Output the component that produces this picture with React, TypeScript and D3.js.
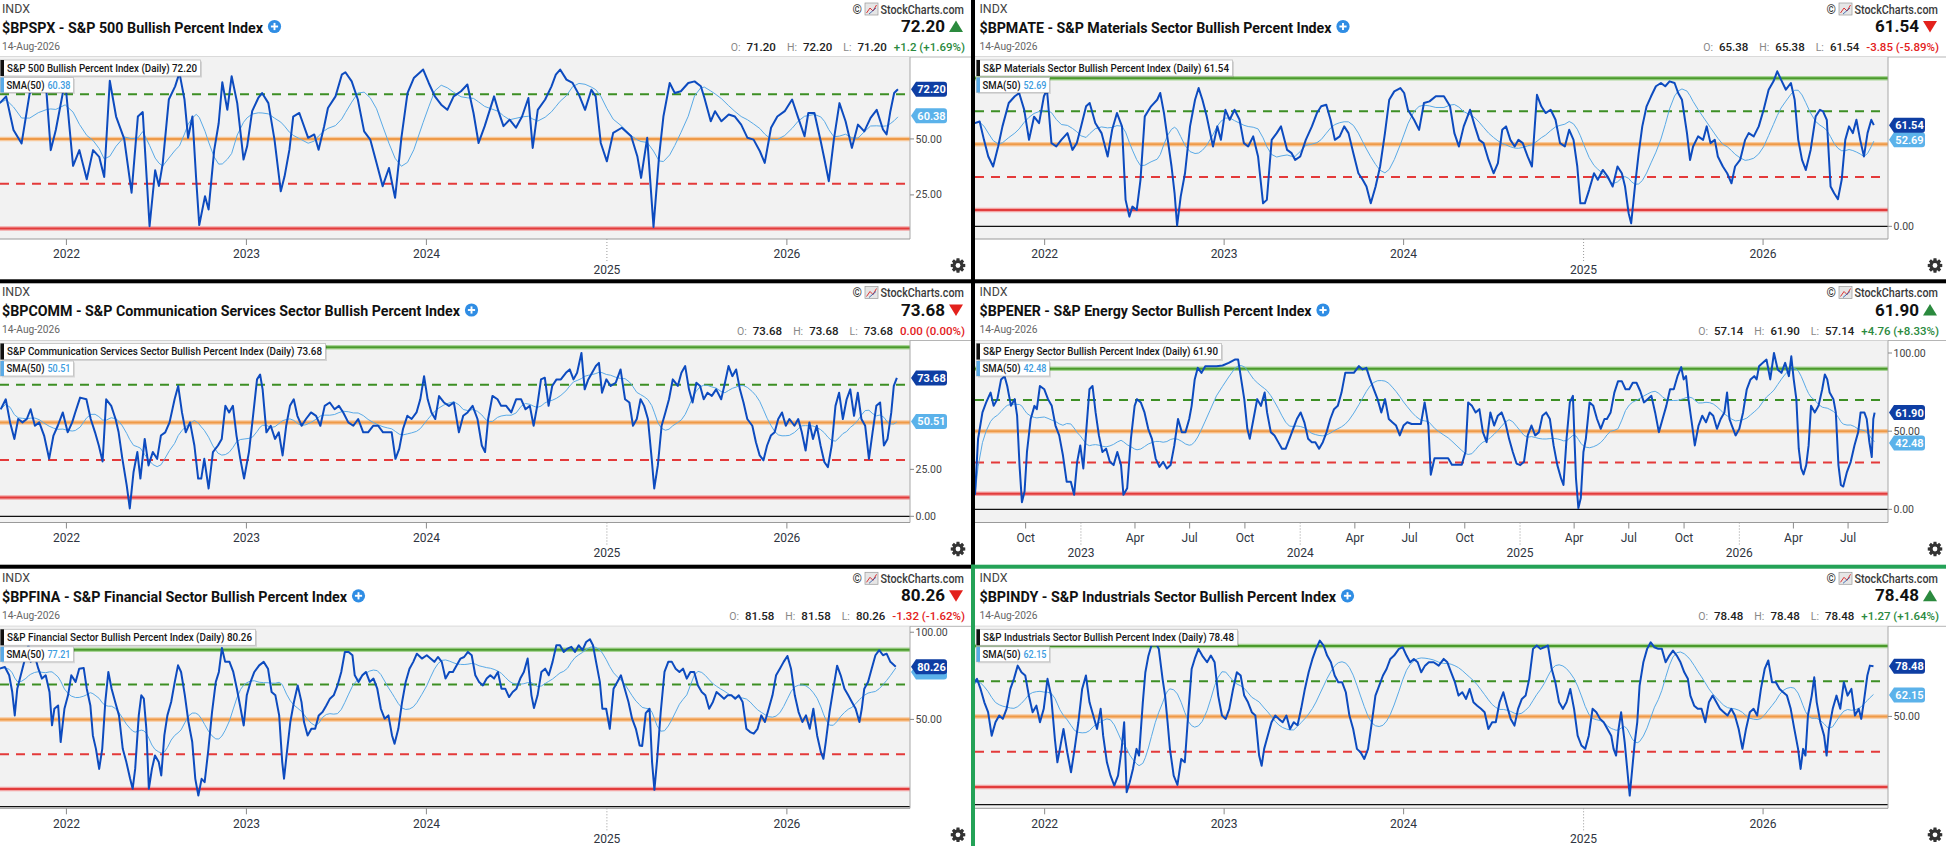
import React from "react";
import * as d3 from "d3";

// ---------------- DATA (dates as decimal years, values in %) ----------------
const p1Dates = [2021.63,2021.665,2021.706,2021.751,2021.796,2021.844,2021.889,2021.913,2021.941,2021.993,
2022.037,2022.072,2022.113,2022.148,2022.182,2022.21,2022.241,2022.276,2022.321,2022.362,
2022.397,2022.424,2022.462,2022.493,2022.514,2022.535,2022.569,2022.604,2022.628,2022.656,
2022.676,2022.7,2022.721,2022.738,2022.77,2022.79,2022.821,2022.846,2022.866,2022.894,
2022.918,2022.949,2022.984,2023.004,2023.032,2023.066,2023.087,2023.122,2023.156,2023.191,
2023.212,2023.239,2023.26,2023.294,2023.343,2023.377,2023.401,2023.432,2023.453,2023.495,
2023.53,2023.55,2023.585,2023.619,2023.654,2023.688,2023.723,2023.757,2023.792,2023.826,
2023.861,2023.895,2023.93,2023.982,2024.013,2024.047,2024.082,2024.116,2024.151,2024.192,
2024.227,2024.261,2024.289,2024.323,2024.375,2024.399,2024.427,2024.461,2024.496,2024.53,
2024.565,2024.589,2024.617,2024.658,2024.693,2024.717,2024.741,2024.776,2024.81,2024.845,
2024.879,2024.914,2024.938,2024.966,2025.0,2025.035,2025.083,2025.135,2025.169,2025.19,
2025.224,2025.259,2025.29,2025.314,2025.349,2025.377,2025.411,2025.452,2025.487,2025.522,
2025.542,2025.577,2025.601,2025.636,2025.677,2025.711,2025.746,2025.781,2025.815,2025.85,
2025.877,2025.912,2025.947,2025.988,2026.029,2026.063,2026.098,2026.119,2026.153,2026.188,
2026.209,2026.233,2026.261,2026.292,2026.326,2026.361,2026.395,2026.43,2026.465,2026.499,
2026.534,2026.554,2026.575,2026.596,2026.617];
const p1Values = [66,69,54,48,70.5,73,71,45,54,76,
38,45,32,45,42,33,76,60,50,26,
60,62,11,36,29,39,67.6,73.5,79.5,67.6,
50.5,60,32,11.5,24.4,18.5,45,57,75.3,63,
78,66,40.8,46.7,62.4,68.3,70.5,66,49.7,26.6,
33.3,45.2,60,61.6,50.5,52,45.2,55.7,63.8,69,
78.7,79.8,75.7,67.6,53.4,49.7,39.3,28.9,37,23.7,
50.5,70.5,77.2,81,75,69,65.3,63,69,71.3,
74.3,61.6,48.2,55.7,69,62.4,55.7,58.6,55,60,
68.3,46,63,67.6,73.5,78.7,81,76.5,75,69.8,
63,72,69,48.2,40,52.7,55,51.2,42.3,32.6,
50.5,10.7,42.3,60,75,70.5,71.3,75,75.7,73.5,
68.3,57.9,62.4,57.9,60.9,60,56.4,50.5,49.7,44.5,
39.3,55,60,62.4,67.6,59.4,51.2,61.6,61.6,49,
40.8,31.1,49.7,66,57.9,46,56.4,53.4,59.4,63,
54.2,52,62.4,70.5,72.2];

const p2Dates = [2021.61,2021.638,2021.662,2021.686,2021.713,2021.741,2021.765,2021.8,2021.834,2021.858,
2021.886,2021.913,2021.941,2021.969,2021.996,2022.013,2022.038,2022.065,2022.093,2022.127,
2022.155,2022.179,2022.203,2022.231,2022.251,2022.282,2022.317,2022.351,2022.376,2022.403,
2022.431,2022.451,2022.472,2022.489,2022.513,2022.534,2022.558,2022.593,2022.627,2022.644,
2022.665,2022.686,2022.707,2022.724,2022.738,2022.758,2022.782,2022.81,2022.838,2022.858,
2022.879,2022.903,2022.938,2022.962,2022.982,2023.007,2023.031,2023.058,2023.086,2023.11,
2023.134,2023.162,2023.189,2023.217,2023.238,2023.265,2023.293,2023.317,2023.351,2023.376,
2023.396,2023.424,2023.455,2023.489,2023.517,2023.541,2023.569,2023.593,2023.617,2023.644,
2023.669,2023.693,2023.72,2023.748,2023.772,2023.793,2023.817,2023.844,2023.869,2023.896,
2023.92,2023.948,2023.982,2024.003,2024.024,2024.058,2024.086,2024.113,2024.144,2024.179,
2024.224,2024.258,2024.282,2024.307,2024.334,2024.369,2024.396,2024.42,2024.444,2024.472,
2024.5,2024.524,2024.548,2024.569,2024.593,2024.617,2024.638,2024.662,2024.689,2024.713,
2024.741,2024.765,2024.789,2024.817,2024.844,2024.869,2024.896,2024.92,2024.944,2024.965,
2024.982,2025.007,2025.031,2025.058,2025.079,2025.107,2025.134,2025.162,2025.189,2025.213,
2025.231,2025.251,2025.265,2025.286,2025.307,2025.327,2025.351,2025.376,2025.403,2025.431,
2025.455,2025.479,2025.507,2025.527,2025.548,2025.576,2025.593,2025.61,2025.638,2025.666,
2025.686,2025.707,2025.731,2025.748,2025.776,2025.8,2025.824,2025.844,2025.872,2025.9,
2025.92,2025.948,2025.976,2026.003,2026.031,2026.058,2026.079,2026.1,2026.127,2026.155,
2026.176,2026.196,2026.217,2026.238,2026.265,2026.293,2026.317,2026.334,2026.355,2026.376,
2026.396,2026.417,2026.438,2026.458,2026.479,2026.5,2026.52,2026.541,2026.562,2026.582,
2026.603,2026.617];
const p2Values = [62.8,63.8,52.6,42.5,36.4,48.6,60.8,75,79.1,81.1,
71,52.6,66.7,62.8,79.1,83.1,50.6,48.6,52.6,56.7,
46.5,50.6,60.8,73,75,62.8,56.7,42.5,58.7,68.9,
60.8,16.1,5.9,12,9.9,28.3,66.9,73,77,81.1,
68.9,52.6,36.4,20.1,0.5,18.1,32.3,60.8,77,84.1,
77,66.9,48.6,60.8,52.6,70.9,64.8,70.9,64.8,50.6,
48.6,54.7,42.5,14,16.1,52.6,56.7,60.8,46.5,44.5,
40.4,42.5,52.6,60.8,68.9,73,74,64.8,52.6,54.7,
60.8,56.7,44.5,32.3,28.3,24.2,14,24.2,36.4,56.7,
77,82.1,84.1,81.1,70.9,64.8,58.7,75,76,79.1,
79.1,73,56.7,48.6,60.8,70.9,60.8,52.6,50.6,40.4,
32.3,38.4,58.7,60.8,52.6,48.6,52.6,50.6,42.5,36.4,
80,73,68.9,70.9,64.8,50.6,48.6,58.7,52.6,36.4,
14,14,22.2,32.3,28.3,34.3,30.3,24.2,36.4,32.3,
24.2,8,1.8,24.2,44.5,60.8,73,79.1,85.2,87.2,
85.2,88.2,87.2,81.1,77,56.7,40.4,48.6,54.7,52.6,
60.8,50.6,52.6,42.5,36.4,32.3,26.2,36.4,40.4,52.6,
56.7,54.7,60.8,70.9,83.1,88.2,94.3,89.2,83.1,87.2,
77,52.6,40.4,34.3,46.5,66.9,70.9,69.9,64.8,24.2,
20.1,16.5,28.3,52.6,60.8,56.7,64.8,52.6,42.5,56.7,
64.8,61.54];

const p3Dates = [2021.635,2021.663,2021.687,2021.711,2021.732,2021.756,2021.78,2021.801,2021.825,2021.849,
2021.876,2021.904,2021.928,2021.952,2021.98,2022.007,2022.032,2022.049,2022.076,2022.111,
2022.135,2022.159,2022.18,2022.201,2022.221,2022.249,2022.273,2022.29,2022.311,2022.335,
2022.352,2022.373,2022.394,2022.411,2022.435,2022.456,2022.48,2022.504,2022.525,2022.549,
2022.573,2022.601,2022.621,2022.642,2022.663,2022.687,2022.711,2022.732,2022.749,2022.766,
2022.79,2022.814,2022.842,2022.863,2022.883,2022.904,2022.925,2022.945,2022.966,2022.987,
2023.014,2023.035,2023.059,2023.076,2023.09,2023.111,2023.135,2023.159,2023.18,2023.201,
2023.221,2023.242,2023.263,2023.283,2023.307,2023.331,2023.359,2023.387,2023.411,2023.435,
2023.463,2023.49,2023.514,2023.538,2023.566,2023.594,2023.621,2023.649,2023.676,2023.704,
2023.732,2023.759,2023.783,2023.807,2023.828,2023.849,2023.87,2023.894,2023.918,2023.945,
2023.966,2023.987,2024.007,2024.028,2024.049,2024.07,2024.097,2024.125,2024.152,2024.18,
2024.204,2024.228,2024.256,2024.283,2024.307,2024.325,2024.342,2024.366,2024.394,2024.414,
2024.442,2024.47,2024.497,2024.525,2024.549,2024.573,2024.594,2024.614,2024.635,2024.656,
2024.677,2024.697,2024.721,2024.745,2024.773,2024.794,2024.815,2024.835,2024.859,2024.877,
2024.897,2024.918,2024.939,2024.956,2024.973,2024.997,2025.021,2025.049,2025.076,2025.101,
2025.125,2025.145,2025.166,2025.187,2025.207,2025.228,2025.249,2025.263,2025.283,2025.304,
2025.325,2025.345,2025.366,2025.394,2025.414,2025.435,2025.456,2025.476,2025.497,2025.518,
2025.538,2025.559,2025.583,2025.607,2025.635,2025.656,2025.676,2025.697,2025.718,2025.739,
2025.759,2025.78,2025.808,2025.828,2025.849,2025.87,2025.89,2025.911,2025.932,2025.952,
2025.973,2025.994,2026.014,2026.042,2026.063,2026.083,2026.104,2026.125,2026.145,2026.166,
2026.187,2026.208,2026.228,2026.249,2026.27,2026.29,2026.311,2026.332,2026.352,2026.373,
2026.394,2026.414,2026.435,2026.456,2026.476,2026.497,2026.518,2026.539,2026.559,2026.58,
2026.594,2026.611];
const p3Values = [57,62.3,50,41.2,51.8,50,51.8,57,48.2,50,
43,30.6,43,48.2,55.3,44.7,50,55.3,63.2,62.3,
51.8,44.7,37.7,29.2,62.3,58.8,51.8,44.7,30.6,16.5,
4.2,23.6,34.2,20.1,41.2,27.1,34.2,30.6,43,44.7,
50,62.3,69.4,55.3,44.7,50,37.7,20.1,20.1,30.6,
14.8,34.2,37.7,41.2,58.8,55.3,58.8,43,30.6,20.1,
34.2,51.8,72.9,75.5,67.6,44.7,48.2,41.2,44.7,32.4,
48.2,58.8,62.3,53.5,48.2,51.8,55.3,53.5,48.2,58.8,
60.6,57,58.8,55.3,50,48.2,51.8,44.7,44.7,48.2,
48.2,44.7,44.7,44.7,30.6,35.9,46.5,53.5,51.8,55.3,
62.3,74.6,62.3,55.3,51.8,64,60.6,58.8,60.6,44.7,
53.5,55.3,58.8,51.8,37.7,34.2,51.8,64.1,62.3,58.8,
58.8,55.3,62.3,62.3,57,58.8,48.2,58.8,72.9,73.8,
58.8,69.4,72.9,72.9,76.4,78.2,72.9,76.4,87,67.6,
72.9,76.4,80,81.7,65.8,72.9,69.4,71.1,78.2,62.3,
60.6,48.2,51.8,62.3,58.8,51.8,30.6,14.8,27.1,48.2,
55.3,62.3,72.9,69.4,76.4,80,67.6,60.6,71.1,69.4,
62.3,65.8,64.1,67.6,62.3,71.1,80,74.6,78.2,67.6,
60.6,51.8,48.2,39.4,32.4,29.8,37.7,43,44.7,51.8,
55.3,48.2,51.8,48.2,51.8,44.7,35,50,41.2,48.2,
37.7,28.9,26.2,37.7,58.8,65.8,51.8,62.3,67.6,53.5,
65.8,51.8,48.2,30.6,44.7,58.8,60.6,37.7,41.2,55.3,
69.4,73.68];

const p4Dates = [2022.517,2022.531,2022.551,2022.568,2022.588,2022.602,2022.619,2022.636,2022.652,2022.664,
2022.681,2022.698,2022.709,2022.72,2022.731,2022.743,2022.754,2022.771,2022.788,2022.799,
2022.813,2022.833,2022.85,2022.867,2022.884,2022.901,2022.918,2022.935,2022.954,2022.969,
2022.983,2022.997,2023.011,2023.025,2023.039,2023.053,2023.067,2023.082,2023.098,2023.115,
2023.132,2023.149,2023.166,2023.183,2023.194,2023.211,2023.228,2023.245,2023.256,2023.273,
2023.29,2023.307,2023.324,2023.341,2023.358,2023.375,2023.392,2023.409,2023.426,2023.443,
2023.46,2023.477,2023.494,2023.505,2023.519,2023.533,2023.55,2023.567,2023.589,2023.618,
2023.646,2023.674,2023.702,2023.717,2023.731,2023.745,2023.759,2023.77,2023.787,2023.804,
2023.821,2023.838,2023.849,2023.866,2023.883,2023.9,2023.917,2023.934,2023.951,2023.968,
2023.985,2024.002,2024.019,2024.036,2024.053,2024.069,2024.086,2024.103,2024.12,2024.137,
2024.154,2024.171,2024.188,2024.205,2024.222,2024.244,2024.267,2024.284,2024.301,2024.318,
2024.335,2024.352,2024.369,2024.386,2024.403,2024.419,2024.436,2024.453,2024.47,2024.487,
2024.507,2024.527,2024.549,2024.566,2024.583,2024.594,2024.611,2024.628,2024.651,2024.673,
2024.69,2024.713,2024.735,2024.752,2024.764,2024.781,2024.798,2024.815,2024.831,2024.848,
2024.865,2024.882,2024.899,2024.916,2024.933,2024.95,2024.967,2024.984,2025.001,2025.018,
2025.035,2025.052,2025.069,2025.086,2025.102,2025.119,2025.136,2025.153,2025.17,2025.187,
2025.198,2025.212,2025.227,2025.241,2025.255,2025.266,2025.277,2025.289,2025.3,2025.317,
2025.334,2025.351,2025.368,2025.385,2025.396,2025.413,2025.43,2025.447,2025.464,2025.481,
2025.498,2025.514,2025.531,2025.548,2025.565,2025.582,2025.599,2025.616,2025.633,2025.65,
2025.667,2025.684,2025.701,2025.718,2025.735,2025.746,2025.757,2025.768,2025.785,2025.797,
2025.814,2025.831,2025.848,2025.865,2025.881,2025.898,2025.915,2025.932,2025.944,2025.955,
2025.966,2025.983,2026.0,2026.017,2026.034,2026.051,2026.068,2026.079,2026.09,2026.107,
2026.124,2026.141,2026.158,2026.175,2026.192,2026.209,2026.226,2026.237,2026.248,2026.26,
2026.271,2026.282,2026.293,2026.305,2026.316,2026.327,2026.344,2026.361,2026.378,2026.39,
2026.401,2026.412,2026.429,2026.44,2026.452,2026.463,2026.474,2026.491,2026.508,2026.525,
2026.542,2026.553,2026.57,2026.581,2026.593,2026.604,2026.611,2026.617];
const p4Values = [9.3,45.1,62,68.4,74.7,66.2,70.5,83.1,85.2,78.9,
66.2,70.5,60,28.3,4.6,11.4,36.7,57.8,66.2,64.1,
78.9,76.8,70.5,66.2,53.6,47.3,34.6,17.7,17.7,9.3,
30.4,40.9,26.2,51.5,76.8,78.9,62,47.3,36.7,38.8,
30.4,28.3,36.7,28.3,9.3,13.5,45.1,66.2,70.5,68.4,
62,51.5,45.1,32.5,27.2,30.4,26.2,28.3,40.9,57.8,
49.4,49.4,57.8,66.2,83.1,90.5,87.3,91.6,91.6,91.6,
92,93.7,95.8,95.8,83.1,70.5,51.5,45.1,57.8,70.5,
66.2,74.7,62,49.4,47.3,43,38.8,38.8,45.1,51.5,
57.8,62,55.7,45.1,43,43,38.8,43,49.4,57.8,
64.1,66.2,74.7,87.3,87.3,87.3,91.6,89.5,90.5,83.1,
76.8,70.5,62,70.5,57.8,55.7,53.6,47.3,53.6,55.7,
54.6,54.6,54.6,68.4,53.6,22.2,32.7,32.7,32.7,32.7,
28.5,28.5,28.5,36.9,68.4,66.2,62,64.1,49.4,43,
62,53.6,59.9,62,55.7,45.1,36.7,29.3,28.3,30.4,
47.3,53.6,47.3,49.4,59.9,62,57.8,40.9,28.3,19.8,
15.6,45.1,68.4,72.6,19.8,0.8,7.2,36.7,45.1,68.4,
66.2,57.8,51.5,57.8,57.8,62,74.7,82,82,76.8,
76.8,81,81,75.7,68.4,70.5,72.6,62,49.4,57.8,
66.2,76.8,76.8,85.2,91,83.1,85.2,70.5,53.6,40.9,
53.6,59.9,55.7,62,59.9,51.5,57.8,62,74.7,57.8,
53.6,47.3,51.5,62,76.8,83.1,85.2,83.1,91.6,93.7,
95.8,83.1,100,89.5,87.3,93.7,85.2,97.9,83.1,70.5,
38.8,26.2,22.4,28.3,40.9,66.2,62,66.2,76.8,86.3,
83.1,74.7,70.5,62,28.3,15.6,14.6,24,30.4,40.9,
49.4,62,62,57.8,43,33.5,57.8,61.9];

const p5Dates = [2021.63,2021.658,2021.682,2021.699,2021.713,2021.727,2021.751,2021.775,2021.789,2021.802,
2021.823,2021.844,2021.864,2021.885,2021.906,2021.92,2021.933,2021.954,2021.968,2021.989,
2022.009,2022.027,2022.051,2022.071,2022.096,2022.113,2022.133,2022.147,2022.164,2022.182,
2022.199,2022.216,2022.233,2022.251,2022.271,2022.292,2022.313,2022.333,2022.354,2022.368,
2022.382,2022.402,2022.416,2022.43,2022.444,2022.458,2022.475,2022.492,2022.513,2022.527,
2022.544,2022.561,2022.582,2022.602,2022.62,2022.637,2022.658,2022.678,2022.699,2022.716,
2022.733,2022.751,2022.768,2022.789,2022.809,2022.83,2022.847,2022.864,2022.882,2022.906,
2022.927,2022.947,2022.968,2022.985,2023.002,2023.023,2023.044,2023.071,2023.096,2023.12,
2023.14,2023.161,2023.182,2023.199,2023.209,2023.223,2023.244,2023.264,2023.285,2023.306,
2023.32,2023.34,2023.361,2023.382,2023.402,2023.423,2023.444,2023.464,2023.485,2023.506,
2023.527,2023.547,2023.568,2023.589,2023.602,2023.623,2023.644,2023.664,2023.685,2023.706,
2023.727,2023.747,2023.768,2023.789,2023.809,2023.823,2023.844,2023.865,2023.885,2023.906,
2023.927,2023.947,2023.975,2024.002,2024.023,2024.044,2024.064,2024.085,2024.106,2024.127,
2024.147,2024.168,2024.189,2024.209,2024.23,2024.251,2024.271,2024.292,2024.313,2024.334,
2024.354,2024.375,2024.396,2024.416,2024.437,2024.458,2024.478,2024.499,2024.52,2024.54,
2024.561,2024.582,2024.596,2024.616,2024.637,2024.658,2024.678,2024.699,2024.72,2024.74,
2024.761,2024.782,2024.803,2024.823,2024.844,2024.865,2024.885,2024.906,2024.923,2024.94,
2024.961,2024.975,2024.996,2025.016,2025.037,2025.058,2025.078,2025.099,2025.12,2025.14,
2025.161,2025.182,2025.196,2025.216,2025.237,2025.251,2025.264,2025.278,2025.299,2025.32,
2025.341,2025.361,2025.382,2025.403,2025.423,2025.444,2025.464,2025.485,2025.506,2025.527,
2025.547,2025.568,2025.589,2025.609,2025.63,2025.651,2025.671,2025.692,2025.713,2025.733,
2025.754,2025.775,2025.796,2025.816,2025.837,2025.858,2025.878,2025.899,2025.92,2025.94,
2025.961,2025.982,2026.003,2026.023,2026.044,2026.065,2026.086,2026.106,2026.127,2026.147,
2026.168,2026.189,2026.203,2026.216,2026.237,2026.258,2026.279,2026.299,2026.32,2026.341,
2026.361,2026.382,2026.403,2026.416,2026.43,2026.451,2026.471,2026.492,2026.513,2026.534,
2026.554,2026.575,2026.605];
const p5Values = [79.1,80.1,75.3,65.7,52.3,67.6,77.2,86.8,92.5,83,
86.8,79.1,73.4,75.3,65.7,46.6,56.1,58,37,56.1,
63.8,75.3,71.5,79.1,79.5,67.6,58,40.8,33.1,21.6,
33.1,60,77.2,67.6,60,52.3,33.1,25.5,15.9,10.2,
21.6,52.3,63.8,61.9,44.6,10.2,21.6,29.3,25.5,17.8,
40.8,52.3,60,71.5,81,77.2,63.8,48.5,37,15.9,
6.3,15.9,14,33.1,54.2,71.5,77.2,91,83,83,
77.2,67.6,56.1,46.5,63.8,71.5,77.2,81,83,79.1,
65.7,63.8,52.3,25.5,16,29.3,48.5,60,69.5,60,
48.5,40.8,44.6,44.6,52.3,54.2,58,61.9,63.8,69.5,
77.2,88.7,88.7,86.8,75.3,71.5,75.3,77.2,71.5,73.4,
67.6,56.1,50.4,52.3,40.8,36,44.6,60,71.5,79.1,
83,87.7,84.9,86.8,84.9,83,85.8,83,73.4,77.2,
77.2,81,84.9,85.8,88.7,86.8,75.3,71.5,69.5,73.4,
75.3,73.4,77.2,67.6,67.6,62.8,65.7,67.6,73.4,77.2,
84.9,63.8,56.5,63.8,77.2,79.1,75.3,83,92.5,92.5,
88.7,90.6,91.6,88.7,92.5,89.7,94.4,96,92.5,83,
71.5,56.1,56.1,44.6,67.6,71.5,75.3,67.6,60,50.4,
44.6,35,34.7,53.6,56.1,25.5,9.6,25.5,54.2,77.2,
83,83,79.1,77.2,79.1,73.4,77.2,77.2,69.5,65.7,
63.8,56.1,60,65.7,63.8,61.9,63.8,63.8,61.9,63.8,
60,44.6,42.7,41.8,44.6,52.3,48.5,56.1,63.8,75.3,
79.1,83,86.4,79.1,63.8,54.2,48.5,52.3,44.6,56.1,
40.8,31.2,27.4,37,54.2,67.6,80.8,75.3,67.6,63.8,
60,56.1,48.5,56.1,67.6,71.5,79.1,86.8,89.7,86.8,
87.7,83,80.26];

const p6Dates = [2021.595,2021.623,2021.643,2021.664,2021.685,2021.705,2021.726,2021.747,2021.767,2021.788,
2021.809,2021.829,2021.85,2021.871,2021.892,2021.912,2021.933,2021.954,2021.974,2021.995,
2022.016,2022.036,2022.057,2022.071,2022.085,2022.105,2022.126,2022.147,2022.167,2022.188,
2022.209,2022.23,2022.25,2022.271,2022.292,2022.312,2022.326,2022.347,2022.367,2022.388,
2022.409,2022.429,2022.443,2022.457,2022.474,2022.492,2022.512,2022.526,2022.547,2022.561,
2022.578,2022.595,2022.616,2022.636,2022.657,2022.671,2022.685,2022.698,2022.719,2022.74,
2022.761,2022.781,2022.802,2022.819,2022.836,2022.857,2022.878,2022.905,2022.926,2022.947,
2022.967,2022.988,2023.009,2023.029,2023.05,2023.071,2023.092,2023.112,2023.133,2023.154,
2023.174,2023.195,2023.209,2023.223,2023.243,2023.264,2023.285,2023.305,2023.326,2023.347,
2023.367,2023.388,2023.409,2023.429,2023.45,2023.471,2023.492,2023.512,2023.533,2023.554,
2023.574,2023.595,2023.616,2023.636,2023.657,2023.678,2023.698,2023.719,2023.74,2023.76,
2023.781,2023.802,2023.823,2023.843,2023.864,2023.885,2023.905,2023.926,2023.947,2023.974,
2023.995,2024.016,2024.036,2024.057,2024.078,2024.098,2024.119,2024.14,2024.167,2024.195,
2024.223,2024.243,2024.264,2024.285,2024.305,2024.326,2024.347,2024.367,2024.388,2024.409,
2024.43,2024.45,2024.471,2024.492,2024.512,2024.533,2024.554,2024.574,2024.595,2024.616,
2024.636,2024.657,2024.678,2024.698,2024.719,2024.74,2024.76,2024.781,2024.802,2024.823,
2024.843,2024.864,2024.885,2024.905,2024.926,2024.947,2024.967,2024.988,2025.009,2025.029,
2025.05,2025.071,2025.092,2025.112,2025.133,2025.154,2025.167,2025.181,2025.195,2025.209,
2025.229,2025.243,2025.257,2025.271,2025.285,2025.299,2025.312,2025.333,2025.354,2025.374,
2025.395,2025.416,2025.436,2025.457,2025.478,2025.498,2025.519,2025.54,2025.561,2025.581,
2025.595,2025.616,2025.636,2025.657,2025.678,2025.698,2025.719,2025.74,2025.76,2025.781,
2025.802,2025.823,2025.843,2025.864,2025.885,2025.905,2025.926,2025.947,2025.967,2025.988,
2026.009,2026.029,2026.05,2026.071,2026.092,2026.112,2026.133,2026.154,2026.174,2026.195,
2026.209,2026.223,2026.236,2026.25,2026.271,2026.285,2026.299,2026.319,2026.34,2026.354,
2026.367,2026.388,2026.409,2026.43,2026.45,2026.471,2026.492,2026.512,2026.533,2026.547,
2026.561,2026.581,2026.595,2026.615];
const p6Values = [67.5,71.3,65.6,58,52.4,39.1,46.7,50.5,48.6,54.3,
65.6,71.3,78.8,75,73.2,61.8,52.4,56.1,46.7,54.3,
71.3,61.8,37.2,24,31.6,42.9,29.7,18.3,31.6,46.7,
65.6,73.2,58,50.5,42.9,54.3,39.1,24,16.4,10.8,
16.4,31.6,46.7,7,12.7,20.2,31.6,27.8,58,74.9,
84.3,90.2,92,88.3,71.3,61.8,46.7,31.6,16.4,11.2,
25.9,24,54.3,76.9,82.6,88.3,84.5,80.7,84.5,80.7,
61.8,50.5,48.6,54.3,65.6,75,73.2,61.8,58,52.4,
50.5,27.8,22,31.6,39.1,46.7,50.5,48.6,46.7,50.5,
42.9,46.7,45,54.3,65.6,75,82.6,88.3,93,90.2,
84.5,80.7,73.2,69.4,69.4,63.7,50.5,42.9,31.6,29.7,
25.9,31.6,46.7,61.8,67.5,73.2,76.9,82.6,84.5,88.3,
89.2,84.5,80.7,82.6,80.7,75,78.8,80.7,80.7,78.8,
82.6,80.7,75,69.4,61.8,63.7,59.9,65.6,58,56.1,
54.3,52.4,42.9,46.7,46.7,58,63.7,56.1,48.6,44.8,
54.3,59.9,61.8,71.3,88.3,90.2,88.3,89.2,90.2,76.9,
69.4,58,54.3,58,65.6,54.3,39.1,33.5,31.6,39.1,
54.3,52.4,48.6,46.7,42.9,39.1,31.6,27.8,42.9,52.4,
35.3,20.2,5.1,20.2,35.3,46.7,67.5,80.7,88.3,92,
89.2,88.3,88.3,80.7,84.5,87.3,84.5,80.7,75,71.3,
61.8,56.1,54.3,54.3,46.7,58,61.8,58,54.3,52.4,
50.5,54.3,50.5,42.9,31.6,42.9,52.4,54.3,50.5,65.6,
76.9,81.7,69.4,69.4,65.6,63.7,61.8,54.3,42.9,31.6,
20.2,31.6,27.8,50.5,61.8,72.2,58,46.7,39.1,27.8,
42.9,54.3,61.8,54.3,69.4,61.8,65.6,50.5,54.3,48.6,
58,73.2,78.8,78.48];

const symbols = ["$BPSPX", "$BPMATE", "$BPCOMM", "$BPENER", "$BPFINA", "$BPINDY"];
const names = [
  "S&P 500 Bullish Percent Index",
  "S&P Materials Sector Bullish Percent Index",
  "S&P Communication Services Sector Bullish Percent Index",
  "S&P Energy Sector Bullish Percent Index",
  "S&P Financial Sector Bullish Percent Index",
  "S&P Industrials Sector Bullish Percent Index",
];
const lastValues = ["72.20", "61.54", "73.68", "61.90", "80.26", "78.48"];
const directions = ["up", "down", "down", "up", "down", "up"];
const openValues = ["71.20", "65.38", "73.68", "57.14", "81.58", "78.48"];
const highValues = ["72.20", "65.38", "73.68", "61.90", "81.58", "78.48"];
const lowValues = ["71.20", "61.54", "73.68", "57.14", "80.26", "78.48"];
const changes = ["+1.2 (+1.69%)", "-3.85 (-5.89%)", "0.00 (0.00%)", "+4.76 (+8.33%)", "-1.32 (-1.62%)", "+1.27 (+1.64%)"];
const smaValues = ["60.38", "52.69", "50.51", "42.48", "77.21", "62.15"];
const yTickValues = [[25, 50, 75], [0, 50, 100], [0, 25, 50, 75], [0, 50, 100], [0, 50, 100], [0, 50, 100]];
const referenceLevels = [90, 70, 50, 30, 10, 0];
const lowRowYears = [2025];
const exchange = "INDX";
const asOf = "14-Aug-2026";
const brand = "StockCharts.com";

const seriesDates = [p1Dates, p2Dates, p3Dates, p4Dates, p5Dates, p6Dates];
const seriesValues = [p1Values, p2Values, p3Values, p4Values, p5Values, p6Values];

// ---------------- LAYOUT ----------------
const layout = [
  { x0: 0, y0: 0, left: true, plotW: 910, xDom: [2021.631, 2026.684], yDom: [5.3, 86.6], titleW: 261, boxW: 200, monthly: false },
  { x0: 975, y0: 0, left: false, plotW: 913, xDom: [2021.612, 2026.696], yDom: [-7.7, 103], titleW: 352, boxW: 256, monthly: false },
  { x0: 0, y0: 283.5, left: true, plotW: 910, xDom: [2021.631, 2026.684], yDom: [-3.3, 93.6], titleW: 458, boxW: 325, monthly: false },
  { x0: 975, y0: 283.5, left: false, plotW: 913, xDom: [2022.517, 2026.678], yDom: [-8.4, 108], titleW: 332, boxW: 245, monthly: true },
  { x0: 0, y0: 569.3, left: true, plotW: 910, xDom: [2021.631, 2026.684], yDom: [-1, 103.4], titleW: 345, boxW: 255, monthly: false },
  { x0: 975, y0: 569.3, left: false, plotW: 913, xDom: [2021.612, 2026.696], yDom: [-2.1, 101.1], titleW: 356.5, boxW: 261, monthly: false },
];

const refStyles: Record<number, any> = {
  90: { color: "#4b9a2c", width: 2, halo: "#a8d596" },
  70: { color: "#3d8f24", width: 2, dash: "9 7" },
  50: { color: "#ee9a48", width: 2, halo: "#f8c99c" },
  30: { color: "#e43a3a", width: 2, dash: "9 7" },
  10: { color: "#e23c3c", width: 2, halo: "#f3a5a5" },
  0: { color: "#111", width: 1.3 },
};

const FONT = "Roboto, 'Noto Sans', 'DejaVu Sans', Arial, sans-serif";
const LINE_BLUE = "#0d4bbf";
const SMA_BLUE = "#5aaae6";
const TAG_BLUE = "#0e3ea3";
const TAG_LIGHT = "#5bb2ea";
const UP = "#2b8a3e";
const DOWN = "#e3211c";

function toDate(y: number) {
  const yr = Math.floor(y);
  const a = new Date(yr, 0, 1).getTime();
  const b = new Date(yr + 1, 0, 1).getTime();
  return new Date(a + (y - yr) * (b - a));
}

// 50-day simple moving average, as a time-weighted mean over the trailing window
function movingAverage(t: number[], v: number[], win: number) {
  const n = t.length;
  const cum = [0];
  for (let i = 1; i < n; i++) cum.push(cum[i - 1] + (t[i] - t[i - 1]) * (v[i] + v[i - 1]) / 2);
  const areaAt = (s: number) => {
    if (s <= t[0]) return 0;
    const i = d3.bisectRight(t, s) - 1;
    if (i >= n - 1) return cum[n - 1];
    const f = (s - t[i]) / (t[i + 1] - t[i]);
    const vs = v[i] + f * (v[i + 1] - v[i]);
    return cum[i] + (s - t[i]) * (v[i] + vs) / 2;
  };
  return t.map((s, i) => {
    if (i === 0) return v[0];
    const a = Math.max(t[0], s - win);
    return (areaAt(s) - areaAt(a)) / (s - a);
  });
}

function gearPath(cx: number, cy: number) {
  const p = d3.path();
  const rO = 7.4, rI = 5.4;
  const teeth = 8;
  for (let j = 0; j < teeth; j++) {
    const a0 = (j / teeth) * Math.PI * 2;
    const pts = [
      [rI, a0 - 0.33], [rO, a0 - 0.2], [rO, a0 + 0.2], [rI, a0 + 0.33],
    ];
    pts.forEach(([r, a], k) => {
      const px = cx + r * Math.cos(a), py = cy + r * Math.sin(a);
      if (j === 0 && k === 0) p.moveTo(px, py); else p.lineTo(px, py);
    });
  }
  p.closePath();
  return p.toString();
}

function tagPath(tip: number, yc: number, w: number, h: number) {
  const t = yc - h / 2, b = yc + h / 2, r = tip + w;
  return `M${tip},${yc} L${tip + 5},${t} H${r - 3} Q${r},${t} ${r},${t + 3} V${b - 3} Q${r},${b} ${r - 3},${b} H${tip + 5} Z`;
}

type Pt = { d: Date; v: number };

function Panel({ i }: { i: number }) {
  const L = layout[i];
  const { x0, y0 } = L;
  const plotL = x0, plotR = x0 + L.plotW, plotT = y0 + 57, plotB = y0 + 239;
  const pw = 971;
  const tD = seriesDates[i], vals = seriesValues[i];
  const n = Math.min(tD.length, vals.length);
  const tt = tD.slice(0, n), vv = vals.slice(0, n);
  const pts: Pt[] = tt.map((t, k) => ({ d: toDate(t), v: vv[k] }));
  const smaV = movingAverage(tt, vv, 50 / 252);
  const smaPts: Pt[] = tt.map((t, k) => ({ d: toDate(t), v: smaV[k] }));

  const x = d3.scaleTime().domain([toDate(L.xDom[0]), toDate(L.xDom[1])]).range([plotL, plotR]);
  const y = d3.scaleLinear().domain(L.yDom).range([plotB, plotT]);
  const line = d3.line<Pt>().x((p) => x(p.d)).y((p) => y(p.v));

  const last = +lastValues[i];
  const smaLast = +smaValues[i];
  const tagY = y(last), smaY = y(smaLast);
  const tagsOverlap = Math.abs(tagY - smaY) < 14;
  const up = directions[i] === "up";
  const chgColor = changes[i].startsWith("+") ? UP : DOWN;

  const yt = yTickValues[i].filter((t) => {
    const py = y(t);
    return py >= plotT + 5 && py <= plotB - 5.5 && Math.abs(py - tagY) > 9 && Math.abs(py - smaY) > 9;
  });

  const xTicks = L.monthly ? x.ticks(d3.timeMonth.every(3) as any) : x.ticks(d3.timeYear.every(1) as any);
  const fmtMonth = d3.timeFormat("%b");

  const xr = x0 + (L.left ? 964 : 963);
  const tx = x0 + (L.left ? 2 : 4.5);
  const clipId = `clip-${i}`;
  const levels = referenceLevels.filter((lv) => lv >= L.yDom[0] && lv <= L.yDom[1]);
  const bx = x0 + (L.left ? 0.5 : 1.5);
  const gearX = x0 + (L.left ? 958 : 960);
  const gearY = y0 + 265.5;
  const tagW = 36;

  return (
    <g>
      <defs>
        <clipPath id={clipId}>
          <rect x={plotL} y={plotT} width={L.plotW} height={plotB - plotT} />
        </clipPath>
      </defs>
      {/* header */}
      <text x={tx} y={y0 + 12.5} fontSize={12} fill="#444" textLength={28} lengthAdjust="spacingAndGlyphs">{exchange}</text>
      <text x={tx} y={y0 + 32.5} fontSize={14.5} fontWeight={700} fill="#111" textLength={L.titleW} lengthAdjust="spacingAndGlyphs">
        {symbols[i] + " - " + names[i]}
      </text>
      <g transform={`translate(${tx + L.titleW + 11.5},${y0 + 26.5})`}>
        <circle r={6.6} fill="#2f8de4" />
        <line x1={-3.6} x2={3.6} y1={0} y2={0} stroke="#fff" strokeWidth={1.9} />
        <line x1={0} x2={0} y1={-3.6} y2={3.6} stroke="#fff" strokeWidth={1.9} />
      </g>
      <text x={tx} y={y0 + 49.5} fontSize={10.5} fill="#666" textLength={58} lengthAdjust="spacingAndGlyphs">{asOf}</text>

      {/* right header */}
      <g transform={`translate(${xr},${y0 + 13.5}) scale(0.83,1)`}>
        <text x={0} y={0} fontSize={13} fontWeight={500} fill="#3a3a3a" textAnchor="end">{brand}</text>
      </g>
      <g>
        <rect x={xr - 99} y={y0 + 3} width={13} height={12} fill="#e6e6e6" stroke="#999" strokeWidth={0.7} />
        <polyline points={`${xr - 97.5},${y0 + 13} ${xr - 94},${y0 + 8} ${xr - 91},${y0 + 11} ${xr - 87.5},${y0 + 5}`} fill="none" stroke="#d33" strokeWidth={1} />
        <line x1={xr - 95} x2={xr - 88} y1={y0 + 14} y2={y0 + 8} stroke="#2255aa" strokeWidth={0.8} />
      </g>
      <text x={xr - 102} y={y0 + 13.5} fontSize={12} fill="#333" textAnchor="end">©</text>
      <text x={xr - 19} y={y0 + 32} fontSize={17} fontWeight={700} fill="#111" textAnchor="end">{lastValues[i]}</text>
      {up ? (
        <polygon points={`${xr - 15},${y0 + 32} ${xr - 1},${y0 + 32} ${xr - 8},${y0 + 20.5}`} fill={UP} />
      ) : (
        <polygon points={`${xr - 15},${y0 + 21} ${xr - 1},${y0 + 21} ${xr - 8},${y0 + 32.5}`} fill={DOWN} />
      )}
      <text x={xr + 1} y={y0 + 51} fontSize={11.5} textAnchor="end">
        <tspan fill="#888" fontSize={10.5}>O:</tspan>
        <tspan dx={6} fill="#222" fontWeight={500}>{openValues[i]}</tspan>
        <tspan dx={11} fill="#888" fontSize={10.5}>H:</tspan>
        <tspan dx={6} fill="#222" fontWeight={500}>{highValues[i]}</tspan>
        <tspan dx={11} fill="#888" fontSize={10.5}>L:</tspan>
        <tspan dx={6} fill="#222" fontWeight={500}>{lowValues[i]}</tspan>
        <tspan dx={7} fill={chgColor} fontWeight={500}>{changes[i]}</tspan>
      </text>

      {/* header separator */}
      <line x1={x0} x2={x0 + pw} y1={plotT} y2={plotT} stroke="#b5b5b5" strokeWidth={1} />

      {/* plot */}
      <rect x={plotL} y={plotT} width={L.plotW} height={plotB - plotT} fill="#f2f2f2" />
      <g clipPath={`url(#${clipId})`}>
        {levels.map((lv) => {
          const s = refStyles[lv];
          const py = y(lv);
          return (
            <g key={lv}>
              {s.halo && <line x1={plotL} x2={plotR} y1={py} y2={py} stroke={s.halo} strokeWidth={4.5} />}
              <line x1={plotL} x2={s.dash ? plotR - 4 : plotR} y1={py} y2={py} stroke={s.color} strokeWidth={s.width} strokeDasharray={s.dash || undefined} />
            </g>
          );
        })}
        <path d={line(smaPts) || ""} fill="none" stroke={SMA_BLUE} strokeWidth={1} />
        <path d={line(pts) || ""} fill="none" stroke={LINE_BLUE} strokeWidth={2} strokeLinejoin="round" />
      </g>
      <line x1={plotR} x2={plotR} y1={plotT} y2={plotB} stroke="#a8a8a8" strokeWidth={1} />
      <line x1={plotL} x2={plotR} y1={plotB} y2={plotB} stroke="#9a9a9a" strokeWidth={1} />

      {/* y axis */}
      {yt.map((t) => (
        <g key={t}>
          <line x1={plotR} x2={plotR + 4} y1={y(t)} y2={y(t)} stroke="#888" />
          <text x={plotR + 5.5} y={y(t) + 3.6} fontSize={10.5} fill="#444">{d3.format(".2f")(t)}</text>
        </g>
      ))}
      <path d={tagPath(plotR + 1, smaY, tagW, 15)} fill={TAG_LIGHT} />
      {!tagsOverlap && (
        <text x={plotR + 1 + 5 + (tagW - 5) / 2} y={smaY + 4} fontSize={11} fontWeight={600} fill="#fff" textAnchor="middle">{smaValues[i]}</text>
      )}
      <path d={tagPath(plotR + 1, tagY, tagW, 15)} fill={TAG_BLUE} />
      <text x={plotR + 1 + 5 + (tagW - 5) / 2} y={tagY + 4} fontSize={11} fontWeight={700} fill="#fff" textAnchor="middle">{lastValues[i]}</text>

      {/* x axis */}
      {xTicks.map((d) => {
        const px = x(d);
        const isJan = d.getMonth() === 0;
        const low = L.monthly ? isJan : lowRowYears.includes(d.getFullYear());
        const label = isJan ? String(d.getFullYear()) : fmtMonth(d);
        return (
          <g key={+d}>
            {low ? (
              <line x1={px} x2={px} y1={plotB} y2={plotB + 23} stroke="#999" strokeDasharray="1 2" />
            ) : (
              <line x1={px} x2={px} y1={plotB} y2={plotB + 6} stroke="#8a8a8a" />
            )}
            <text x={px} y={y0 + (low ? 273.5 : 258.3)} fontSize={12} fill="#2e3440" textAnchor="middle">{label}</text>
          </g>
        );
      })}

      {/* legend boxes */}
      <rect x={bx + 1.5} y={y0 + 61.5} width={L.boxW} height={16} fill="#000" opacity={0.12} />
      <rect x={bx} y={y0 + 60} width={L.boxW} height={16} fill="#fff" stroke="#bdbdbd" strokeWidth={0.8} />
      <rect x={bx} y={y0 + 60} width={3.5} height={16} fill="#111" />
      <text x={bx + 6.5} y={y0 + 71.8} fontSize={10.5} fontWeight={500} fill="#151515" textLength={L.boxW - 10} lengthAdjust="spacingAndGlyphs">
        {names[i] + " (Daily) " + lastValues[i]}
      </text>
      <rect x={bx + 1.5} y={y0 + 79} width={73} height={15} fill="#000" opacity={0.1} />
      <rect x={bx} y={y0 + 77.5} width={73} height={15} fill="#fff" stroke="#bdbdbd" strokeWidth={0.8} />
      <rect x={bx} y={y0 + 77.5} width={3.5} height={15} fill={SMA_BLUE} />
      <text x={bx + 6} y={y0 + 88.8} fontSize={10.5} fontWeight={500} fill="#151515" textLength={38} lengthAdjust="spacingAndGlyphs">SMA(50)</text>
      <text x={bx + 47} y={y0 + 88.8} fontSize={10.5} fontWeight={500} fill="#3d9ce0" textLength={23} lengthAdjust="spacingAndGlyphs">{smaValues[i]}</text>

      {/* settings gear */}
      <path d={gearPath(gearX, gearY)} fill="#333" />
      <circle cx={gearX} cy={gearY} r={2.4} fill="#fff" />
    </g>
  );
}

export default function App() {
  return (
    <svg width={1946} height={846} style={{ position: "absolute", left: 0, top: 0, display: "block" }} fontFamily={FONT}>
      <rect x={0} y={0} width={1946} height={846} fill="#fff" />
      {layout.map((_, i) => (
        <Panel key={i} i={i} />
      ))}
      {/* dividers */}
      <rect x={0} y={279.3} width={1946} height={4} fill="#000" />
      <rect x={971} y={0} width={4} height={568.7} fill="#000" />
      <rect x={0} y={564.7} width={971} height={4} fill="#000" />
      <rect x={971} y={564.7} width={975} height={4} fill="#24a257" />
      <rect x={971} y={564.7} width={4} height={281.3} fill="#24a257" />
    </svg>
  );
}
